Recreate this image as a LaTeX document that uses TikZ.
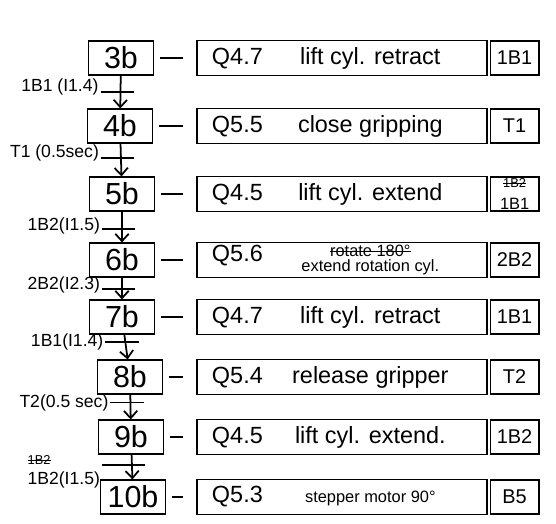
\documentclass[tikz,border=0pt]{standalone}
\usepackage{fontspec}
\setmainfont{Liberation Sans}
\usetikzlibrary{arrows.meta, positioning}

\newlength{\strikewd}
\newcommand{\strikeout}[1]{\settowidth{\strikewd}{#1}\rlap{\rule[0.3em]{\strikewd}{0.7pt}}#1}
\newcommand{\actline}[2]{\makebox[1.7cm][l]{#1}\makebox[6.1cm]{#2}}

\begin{document}
\begin{tikzpicture}[
  x=0.03cm, y=-0.03cm,
  line width=1.5pt,
  stepbox/.style={rectangle, draw, minimum width=1.95cm, minimum height=1.0cm,
                  inner sep=0pt, font=\fontsize{26}{28}\selectfont},
  act/.style={rectangle, draw, minimum width=8.7cm, minimum height=1.05cm,
              inner xsep=0.3cm, inner ysep=0pt, font=\fontsize{20}{22}\selectfont},
  fb/.style={rectangle, draw, minimum width=1.45cm, minimum height=1.0cm,
             inner sep=0pt, align=center, font=\fontsize{17}{19}\selectfont},
  trans/.style={left, inner sep=1pt, font=\fontsize{15}{17}\selectfont},
  link/.style={shorten <=0.18cm, shorten >=0.38cm},
  arr/.style={-{Straight Barb[length=2.2mm, width=4mm]}}
]
\useasboundingbox (0,0) rectangle (556,523);
% steps (left column)
\node[stepbox] (s3)  at (121,58)  {3b};
\node[stepbox] (s4)  at (120,126) {4b};
\node[stepbox] (s5)  at (122,194) {5b};
\node[stepbox] (s6)  at (122,260) {6b};
\node[stepbox] (s7)  at (122,317) {7b};
\node[stepbox] (s8)  at (130,377) {8b};
\node[stepbox] (s9)  at (131,437) {9b};
\node[stepbox] (s10) at (133,497) {10b};
% actions and their feedback signals
\node[act] (a3)  at (342,58)  {\actline{Q4.7}{lift cyl. retract}};
\node[act] (a4)  at (342,126) {\actline{Q5.5}{close gripping}};
\node[act] (a5)  at (342,194) {\actline{Q4.5}{lift cyl. extend}};
\node[act] (a6)  at (342,260) {\actline{\raisebox{0.3cm}[0pt][0pt]{Q5.6}}%
  {\fontsize{14}{16}\selectfont\shortstack{\strikeout{rotate 180°}\\extend rotation cyl.}}};
\node[act] (a7)  at (342,317) {\actline{Q4.7}{lift cyl. retract}};
\node[act] (a8)  at (342,377) {\actline{Q5.4}{release gripper}};
\node[act] (a9)  at (342,437) {\actline{Q4.5}{lift cyl. extend.}};
\node[act] (a10) at (342,497) {\actline{Q5.3}{\fontsize{14}{16}\selectfont stepper motor 90°}};
\node[fb, right=0.05cm of a3]  (f3)  {1B1};
\node[fb, right=0.05cm of a4]  (f4)  {T1};
\node[fb, right=0.05cm of a5]  (f5)  {\fontsize{11}{12}\selectfont\strikeout{1B2}\\[-1pt]
                                      \fontsize{14}{15}\selectfont 1B1};
\node[fb, right=0.05cm of a6]  (f6)  {2B2};
\node[fb, right=0.05cm of a7]  (f7)  {1B1};
\node[fb, right=0.05cm of a8]  (f8)  {T2};
\node[fb, right=0.05cm of a9]  (f9)  {1B2};
\node[fb, right=0.05cm of a10] (f10) {B5};
\draw[link] (s3) -- (a3);
\draw[link] (s4) -- (a4);
\draw[link] (s5) -- (a5);
\draw[link] (s6) -- (a6);
\draw[link] (s7) -- (a7);
\draw[link] (s8) -- (a8);
\draw[link] (s9) -- (a9);
\draw[link] (s10) -- (a10);
% step sequence with transition conditions
\draw[arr] (s3) -- coordinate[pos=0.49] (t3) (s4);
\draw[arr] (s4) -- coordinate[pos=0.44] (t4) (s5);
\draw[arr] (s5) -- coordinate[pos=0.57] (t5) (s6);
\draw[arr] (s6) -- coordinate[pos=0.52] (t6) (s7);
\draw[arr] (s7) -- coordinate[pos=0.30] (t7) (s8);
\draw[arr] (s8) -- coordinate[pos=0.32] (t8) (s9);
\draw[arr] (s9) -- coordinate[pos=0.42] (t9) (s10);
\draw ([xshift=-0.6cm]t3) node[trans, yshift=4pt] {1B1 (I1.4)} -- ([xshift=0.4cm]t3);
\draw ([xshift=-0.6cm]t4) node[trans, yshift=4pt] {T1 (0.5sec)} -- ([xshift=0.4cm]t4);
\draw ([xshift=-0.6cm]t5) node[trans, yshift=3pt] {1B2(I1.5)} -- ([xshift=0.4cm]t5);
\draw ([xshift=-0.6cm]t6) node[trans, yshift=3pt] {2B2(I2.3)} -- ([xshift=0.4cm]t6);
\draw ([xshift=-0.6cm]t7) node[trans] {1B1(I1.4)} -- ([xshift=0.4cm]t7);
\draw ([xshift=-0.6cm]t8) node[trans] {T2(0.5 sec)} -- ([xshift=0.4cm]t8);
\draw ([xshift=-0.9cm]t9) node[trans, align=left, yshift=-6pt]
      {{\fontsize{11}{12}\selectfont\strikeout{1B2}}\\1B2(I1.5)} -- ([xshift=0.4cm]t9);
\end{tikzpicture}
\end{document}
